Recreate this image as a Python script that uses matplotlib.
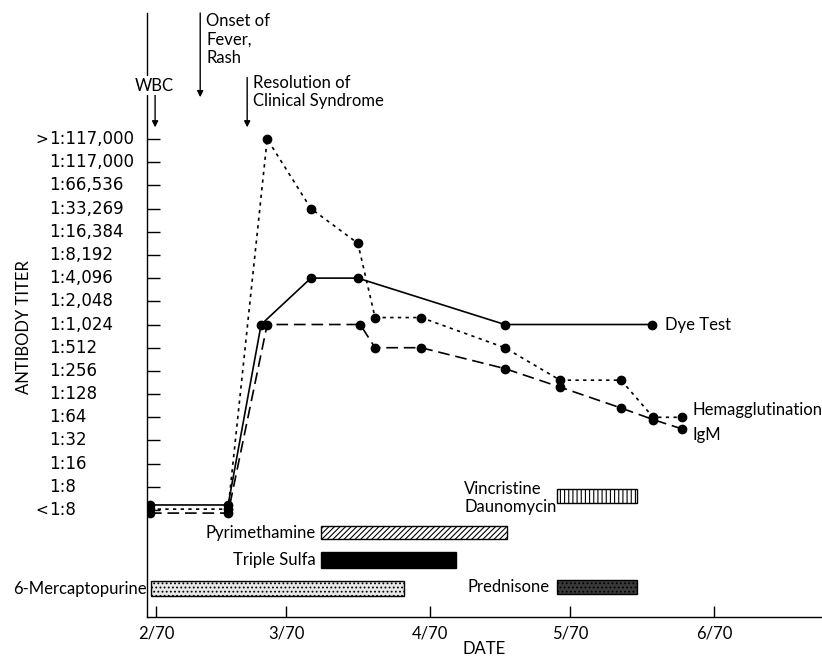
import matplotlib
matplotlib.use("Agg")
import matplotlib.pyplot as plt
from matplotlib.transforms import blended_transform_factory

plt.rcParams['font.family'] = ['Lato', 'DejaVu Sans']
plt.rcParams['hatch.linewidth'] = 0.8

# titer levels (0 = <1:8, 16 = >1:117,000)
titer_labels = ["<1:8", "1:8", "1:16", "1:32", "1:64", "1:128", "1:256", "1:512",
                "1:1,024", "1:2,048", "1:4,096", "1:8,192", "1:16,384", "1:33,269",
                "1:66,536", "1:117,000", ">1:117,000"]

# days since 1 Feb 1970
month_days = [0, 28, 59, 89, 120]
month_labels = ["2/70", "3/70", "4/70", "5/70", "6/70"]

dye_days = [-1.3, 15.5, 22.6, 33.3, 43.4, 75.0, 106.7]
dye_level = [0.22, 0.22, 8.0, 10.0, 10.0, 8.0, 8.0]

hem_days = [-1.3, 15.5, 23.9, 33.3, 43.4, 47.1, 57.0, 75.0, 86.9, 100.0, 106.9, 113.1]
hem_level = [0.04, 0.04, 16.0, 13.0, 11.5, 8.3, 8.3, 7.0, 5.6, 5.6, 4.0, 4.0]

igm_days = [-1.3, 15.5, 23.9, 43.9, 47.1, 57.0, 75.0, 86.9, 100.0, 106.9, 113.1]
igm_level = [-0.13, -0.13, 8.0, 8.0, 7.0, 7.0, 6.1, 5.3, 4.4, 3.9, 3.5]

drugs = ["Vincristine\nDaunomycin", "Pyrimethamine", "Triple Sulfa", "6-Mercaptopurine", "Prednisone"]
drug_start = [86.2, 35.5, 35.5, -1.1, 86.2]
drug_end = [103.4, 75.5, 64.5, 53.3, 103.4]

# event arrows: (label, day)
events = ["WBC", "Onset of\nFever,\nRash", "Resolution of\nClinical Syndrome"]
event_days = [-0.2, 9.5, 19.6]

fig = plt.figure(figsize=(8.22, 6.58), dpi=100)
ax = fig.add_axes([147 / 822, 1 - 617 / 658, 1 - 147 / 822, (617 - 13) / 658])
ax.set_xlim(-1.94, 143.2)
ax.set_ylim(-4.61, 21.43)

ax.plot(dye_days, dye_level, color='black', lw=1.2, marker='o', ms=6, zorder=3)
ax.plot(hem_days, hem_level, color='black', lw=1.2, ls=(0, (2, 2.6)), marker='o', ms=6, zorder=3)
ax.plot(igm_days, igm_level, color='black', lw=1.2, ls=(0, (7, 3.5)), marker='o', ms=6, zorder=3)

ax.text(109.5, 8.0, "Dye Test", fontsize=12, va='center', ha='left')
ax.text(115.3, 4.3, "Hemagglutination", fontsize=12, va='center', ha='left')
ax.text(115.3, 3.25, "IgM", fontsize=12, va='center', ha='left')

# drug bars
bar_y = [0.6, -0.97, -2.16, -3.39, -3.32]
bar_h = [0.6, 0.58, 0.69, 0.65, 0.62]
bar_face = ['white', 'white', 'black', '#e8e8e8', '#3a3a3a']
bar_hatch = ['||||', '//////', None, '....', '....']
for i, name in enumerate(drugs):
    ax.barh(bar_y[i], drug_end[i] - drug_start[i], left=drug_start[i], height=bar_h[i],
            color=bar_face[i], edgecolor='black', hatch=bar_hatch[i], lw=1, zorder=2)
ax.text(66.3, 0.5, drugs[0], fontsize=12, va='center', ha='left', linespacing=1.15)
ax.text(34.4, -0.97, drugs[1], fontsize=12, va='center', ha='right')
ax.text(34.4, -2.16, drugs[2], fontsize=12, va='center', ha='right')
ax.text(-2.1, -3.39, drugs[3], fontsize=12, va='center', ha='right', clip_on=False)
ax.text(84.6, -3.32, drugs[4], fontsize=12, va='center', ha='right')

# event annotations
arrow = dict(arrowstyle='-|>', lw=1, color='black', mutation_scale=9, shrinkA=0, shrinkB=0)
ax.text(-0.3, 18.3, events[0], fontsize=12, ha='center', va='center', zorder=5,
        bbox=dict(facecolor='white', edgecolor='none', pad=1), clip_on=False)
ax.annotate("", xy=(event_days[0], 16.5), xytext=(event_days[0], 18.0), arrowprops=arrow)
ax.annotate("", xy=(event_days[1], 17.8), xytext=(event_days[1], 21.43), arrowprops=arrow,
            annotation_clip=False)
ax.text(10.75, 21.45, events[1], fontsize=12, ha='left', va='top', linespacing=1.2)
ax.annotate("", xy=(event_days[2], 16.5), xytext=(event_days[2], 18.65), arrowprops=arrow)
ax.text(20.9, 18.75, events[2], fontsize=12, ha='left', va='top', linespacing=1.15)

ax.spines['top'].set_visible(False)
ax.spines['right'].set_visible(False)
ax.spines['left'].set_linewidth(1)
ax.spines['bottom'].set_linewidth(1)

# y tick labels: the "1:" column is lined up, with < and > hanging to the left
ax.set_yticks(range(len(titer_labels)))
ax.set_yticklabels([])
ax.tick_params(axis='y', direction='in', length=9, width=1)
lab_tr = blended_transform_factory(fig.transFigure, ax.transData)
for lvl, lab in enumerate(titer_labels):
    prefix = lab[0] if lab[0] in "<>" else ""
    body = lab[len(prefix):]
    ax.text(49 / 822, lvl, body, transform=lab_tr, fontsize=12, ha='left', va='center',
            family=['DejaVu Sans'], clip_on=False)
    if prefix:
        ax.text(48 / 822, lvl, prefix, transform=lab_tr, fontsize=11, ha='right', va='center',
                family=['DejaVu Sans'], clip_on=False)

ax.set_xticks(month_days)
ax.set_xticklabels(month_labels, fontsize=12)
ax.tick_params(axis='x', direction='in', length=8, width=1, pad=6)
ax.set_xlabel("DATE", fontsize=12, labelpad=0)
fig.text(24 / 822, 1 - 327 / 658, "ANTIBODY TITER", rotation=90, fontsize=12,
         ha='center', va='center')

fig.savefig("out.png", dpi=100)
